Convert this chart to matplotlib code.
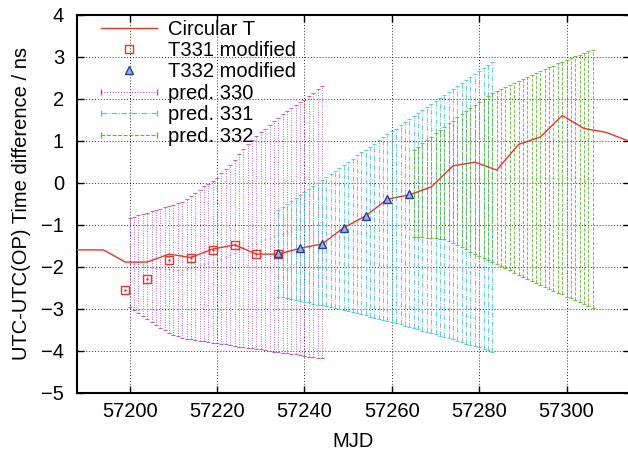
import numpy as np
import matplotlib
matplotlib.use("Agg")
import matplotlib.pyplot as plt
from matplotlib.lines import Line2D
from matplotlib.legend_handler import HandlerLine2D

plt.rcParams['font.family'] = ['Liberation Sans', 'DejaVu Sans']
plt.rcParams['font.size'] = 14.5

# Circular T, every 5 days
ct_mjd = [57184, 57189, 57194, 57199, 57204, 57209, 57214, 57219, 57224,
          57229, 57234, 57239, 57244, 57249, 57254, 57259, 57264, 57269,
          57274, 57279, 57284, 57289, 57294, 57299, 57304, 57309, 57314]
ct_val = [-1.60, -1.60, -1.60, -1.89, -1.89, -1.70, -1.78, -1.58, -1.48,
          -1.70, -1.70, -1.56, -1.46, -1.07, -0.79, -0.39, -0.29, -0.10,
          0.40, 0.49, 0.30, 0.91, 1.09, 1.60, 1.29, 1.20, 1.00]

t331_mjd = [57199, 57204, 57209, 57214, 57219, 57224, 57229, 57234]
t331_val = [-2.56, -2.30, -1.85, -1.79, -1.60, -1.49, -1.70, -1.70]

t332_mjd = [57234, 57239, 57244, 57249, 57254, 57259, 57264]
t332_val = [-1.67, -1.55, -1.46, -1.07, -0.79, -0.39, -0.28]

# predictions: daily upper / lower bounds
p330_mjd = np.arange(57200, 57245)
p330_hi = [-0.85, -0.82, -0.78, -0.75, -0.71, -0.68, -0.65, -0.62, -0.58, -0.55,
           -0.52, -0.49, -0.45, -0.39, -0.32, -0.25, -0.17, -0.09, -0.02, 0.05,
           0.12, 0.22, 0.32, 0.43, 0.55, 0.68, 0.80, 0.91, 1.02, 1.11,
           1.20, 1.29, 1.38, 1.47, 1.55, 1.63, 1.70, 1.77, 1.84, 1.91,
           1.98, 2.06, 2.13, 2.22, 2.30]
p330_lo = [-2.96, -3.04, -3.11, -3.18, -3.25, -3.32, -3.39, -3.45, -3.51, -3.57,
           -3.62, -3.66, -3.69, -3.71, -3.73, -3.75, -3.76, -3.78, -3.79, -3.81,
           -3.82, -3.84, -3.85, -3.87, -3.88, -3.90, -3.91, -3.93, -3.94, -3.96,
           -3.97, -3.99, -4.00, -4.02, -4.03, -4.05, -4.06, -4.08, -4.09, -4.11,
           -4.12, -4.14, -4.15, -4.17, -4.18]

p331_mjd = np.arange(57234, 57284)
p331_hi = [-0.65, -0.58, -0.51, -0.43, -0.36, -0.29, -0.22, -0.15, -0.07, 0.00,
           0.07, 0.14, 0.21, 0.29, 0.36, 0.43, 0.50, 0.57, 0.65, 0.72,
           0.79, 0.86, 0.93, 1.01, 1.08, 1.15, 1.22, 1.29, 1.37, 1.44,
           1.51, 1.58, 1.65, 1.73, 1.80, 1.87, 1.94, 2.01, 2.09, 2.16,
           2.23, 2.30, 2.37, 2.45, 2.52, 2.59, 2.66, 2.73, 2.81, 2.88]
p331_lo = [-2.71, -2.73, -2.75, -2.77, -2.79, -2.81, -2.83, -2.85, -2.88, -2.90,
           -2.92, -2.94, -2.97, -2.99, -3.01, -3.04, -3.06, -3.08, -3.11, -3.13,
           -3.16, -3.19, -3.21, -3.24, -3.26, -3.29, -3.32, -3.35, -3.37, -3.40,
           -3.43, -3.46, -3.49, -3.52, -3.55, -3.58, -3.61, -3.64, -3.67, -3.70,
           -3.73, -3.76, -3.79, -3.83, -3.86, -3.89, -3.92, -3.96, -3.99, -4.03]

p332_mjd = np.arange(57265, 57307)
p332_hi = [0.78, 0.86, 0.94, 1.02, 1.10, 1.18, 1.26, 1.33, 1.41, 1.48,
           1.56, 1.63, 1.71, 1.78, 1.85, 1.93, 2.00, 2.07, 2.13, 2.18,
           2.23, 2.28, 2.33, 2.38, 2.42, 2.47, 2.52, 2.56, 2.61, 2.66,
           2.70, 2.75, 2.79, 2.84, 2.88, 2.93, 2.97, 3.01, 3.05, 3.09,
           3.13, 3.17]
p332_lo = [-1.30, -1.30, -1.30, -1.31, -1.31, -1.32, -1.33, -1.35, -1.39, -1.44,
           -1.49, -1.54, -1.59, -1.64, -1.69, -1.74, -1.79, -1.84, -1.89, -1.94,
           -1.99, -2.04, -2.09, -2.14, -2.19, -2.24, -2.29, -2.34, -2.39, -2.43,
           -2.48, -2.53, -2.57, -2.62, -2.66, -2.71, -2.75, -2.80, -2.85, -2.89,
           -2.94, -2.99]

red = '#e8352e'
mag = '#c04aa8'
cyan = '#4cc3de'
green = '#5fb834'
blue = '#2b3f98'

fig = plt.figure(figsize=(6.28, 4.54), dpi=100)
ax = fig.add_axes([0.1231, 0.1350, 0.8793, 0.8326])


def pred(mjd, lo, hi, color, ls):
    lo = np.array(lo)
    hi = np.array(hi)
    mid = (lo + hi) / 2
    eb = ax.errorbar(mjd, mid, yerr=[mid - lo, hi - mid], fmt='none',
                     ecolor=color, elinewidth=0.7, alpha=0.85,
                     capsize=1.5, capthick=0.8, zorder=2)
    eb[2][0].set_linestyle(ls)
    ax.plot(mjd, mid, ls='none', marker='.', ms=0.8, color=color,
            alpha=0.6, zorder=2)


pred(p330_mjd, p330_lo, p330_hi, mag, (0, (1, 1.5)))
pred(p331_mjd, p331_lo, p331_hi, cyan, (0, (5, 1.5, 1, 1.5)))
pred(p332_mjd, p332_lo, p332_hi, green, (0, (3.5, 1.5)))

ax.plot(ct_mjd, ct_val, color=red, lw=1, zorder=4)
ax.plot(t331_mjd, t331_val, ls='none', marker='s', ms=5.5, mfc='none',
        mec=red, mew=1, zorder=5)
ax.plot(t331_mjd, t331_val, ls='none', marker='.', ms=1.5, color=red, zorder=5)
ax.plot(t332_mjd, t332_val, ls='none', marker='^', ms=6, mfc='#9fb0e0',
        mec=blue, mew=1, zorder=6)

ax.set_xlim(57188, 57314.4)
ax.set_ylim(-5, 4)
ax.set_xticks([57200, 57220, 57240, 57260, 57280, 57300])
ax.set_yticks(range(-5, 5))
ax.grid(True, color='black', ls=(0, (1, 2)), lw=0.7, alpha=0.8)
ax.set_axisbelow(True)
ax.tick_params(direction='in', length=5, width=1, top=True, right=True)
ax.tick_params(axis='x', pad=7)
ax.tick_params(axis='y', pad=9.5)
for s in ax.spines.values():
    s.set_linewidth(1.5)

ax.set_xlabel('MJD')
ax.xaxis.label.set_va('center')
ax.xaxis.set_label_coords(0.5, -0.1278)
ax.set_ylabel('UTC-UTC(OP) Time difference / ns')
ax.yaxis.label.set_va('center')
ax.yaxis.set_label_coords(-0.1002, 0.5)

h_ct = Line2D([], [], color=red, lw=1)
h_331 = Line2D([], [], ls='none', marker='s', ms=5.5, mfc='none', mec=red, mew=1)
h_332 = Line2D([], [], ls='none', marker='^', ms=6, mfc='#9fb0e0', mec=blue, mew=1)
h_p330 = Line2D([], [], color=mag, lw=0.8, ls=(0, (1, 1.5)), marker='|', ms=5)
h_p331 = Line2D([], [], color=cyan, lw=0.8, ls=(0, (5, 1.5, 1, 1.5)), marker='|', ms=5)
h_p332 = Line2D([], [], color=green, lw=0.8, ls=(0, (3.5, 1.5)), marker='|', ms=5)
hmap = {h: HandlerLine2D(numpoints=2, marker_pad=0) for h in (h_p330, h_p331, h_p332)}
ax.legend([h_ct, h_331, h_332, h_p330, h_p331, h_p332],
          ['Circular T', 'T331 modified', 'T332 modified',
           'pred. 330', 'pred. 331', 'pred. 332'],
          handler_map=hmap, numpoints=1, loc='upper left',
          bbox_to_anchor=(0.043, 0.987), frameon=False, borderpad=0,
          borderaxespad=0, handlelength=2.78, handletextpad=0.55,
          labelspacing=0.12)

fig.savefig('out.png', dpi=100)
